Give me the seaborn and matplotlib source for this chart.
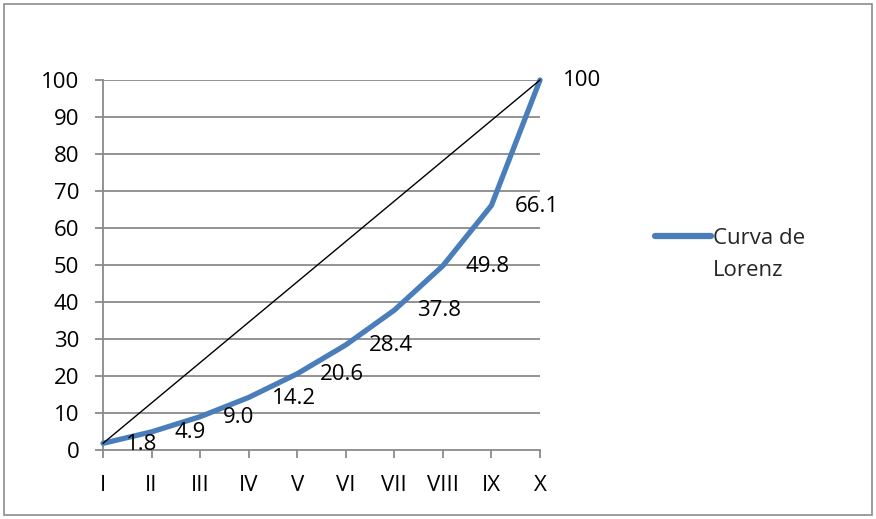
import matplotlib
matplotlib.use("Agg")
import matplotlib.pyplot as plt
import seaborn as sns
import pandas as pd
from matplotlib.patches import Rectangle

deciles = ["I", "II", "III", "IV", "V", "VI", "VII", "VIII", "IX", "X"]
lorenz = [1.8, 4.9, 9.0, 14.2, 20.6, 28.4, 37.8, 49.8, 66.1, 100]
equality = [1.8, 100]
y_ticks = [0, 10, 20, 30, 40, 50, 60, 70, 80, 90, 100]

sns.set_theme(style="white")
plt.rcParams["font.family"] = ["Open Sans", "DejaVu Sans"]
FS = 16

df = pd.DataFrame({"pos": range(len(deciles)), "decil": deciles, "valor": lorenz})

fig = plt.figure(figsize=(8.76, 5.19), dpi=100)
fig.patches.append(Rectangle((4 / 876, 4 / 519), 868 / 876, 511 / 519, transform=fig.transFigure,
                             fill=False, edgecolor="#8c8c8c", linewidth=1.2))
ax = fig.add_axes([103 / 876, 1 - 450 / 519, 437 / 876, 370 / 519])

blue = "#4a7ebb"
grid = "#8a8a8a"
for y in y_ticks[1:]:
    ax.axhline(y, color=grid, linewidth=1.3, zorder=0)

sns.lineplot(data=df, x="pos", y="valor", ax=ax, color=blue, linewidth=3.8,
             label="Curva de", zorder=3, solid_capstyle="round", clip_on=False)
ax.plot([0, len(deciles) - 1], equality, color="black", linewidth=1.0, zorder=4, clip_on=False)

# value labels sit to the right of each point
for i, v in enumerate(lorenz):
    ax.annotate(f"{v:.1f}" if v < 100 else f"{v:g}", (i, v), xytext=(16.5, -0.5),
                textcoords="offset points", ha="left", va="center",
                fontsize=FS, color="black", zorder=5)

ax.set_xlim(0, len(deciles) - 1)
ax.set_ylim(0, 100)
ax.set_xticks(range(len(deciles)))
ax.set_xticklabels(deciles)
ax.set_yticks(y_ticks)
ax.set_xlabel("")
ax.set_ylabel("")
ax.tick_params(axis="both", which="both", length=6, width=1.3, color=grid,
               labelsize=FS, labelcolor="black", direction="out")
ax.tick_params(axis="x", pad=12, bottom=True)
ax.tick_params(axis="y", pad=11, left=True)
for side in ["top", "right"]:
    ax.spines[side].set_visible(False)
for side in ["left", "bottom"]:
    ax.spines[side].set_color(grid)
    ax.spines[side].set_linewidth(1.3)
ax.set_facecolor("white")
ax.margins(0)

leg = ax.legend(loc="center left", bbox_to_anchor=(655 / 876, 1 - 238 / 519),
                bbox_transform=fig.transFigure, frameon=False, fontsize=FS,
                handlelength=2.5, handletextpad=0.1, borderaxespad=0, borderpad=0)
for line in leg.get_lines():
    line.set_linewidth(4.5)
    line.set_solid_capstyle("round")
fig.canvas.draw()
first = leg.get_texts()[0].get_window_extent()
fig.text(first.x0 / 876, 1 - 270 / 519, "Lorenz", fontsize=FS, ha="left", va="center")

fig.savefig("out.png", dpi=100, facecolor="white")
